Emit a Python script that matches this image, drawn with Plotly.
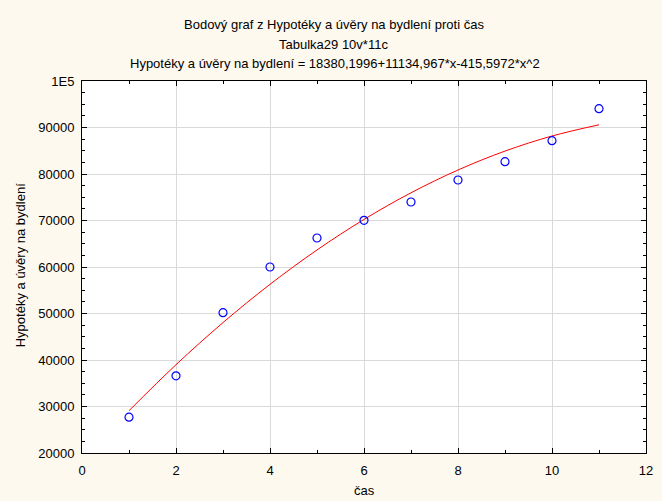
import plotly.graph_objects as go

# Data
cas = [1, 2, 3, 4, 5, 6, 7, 8, 9, 10, 11]
hypoteky = [27700, 36600, 50170, 60000, 66240, 70040, 73980, 78710, 82650, 87160, 94040]
# fitted curve values (as drawn, at each x)
fit_x = [1, 2, 3, 4, 5, 6, 7, 8, 9, 10, 11]
fit_y = [29100, 38990, 48045, 56270, 63665, 70230, 75960, 80860, 84930, 88170, 90580]

y_tickvals = [20000, 30000, 40000, 50000, 60000, 70000, 80000, 90000, 100000]
y_ticktext = ["20000", "30000", "40000", "50000", "60000", "70000", "80000", "90000", "1E5"]
x_tickvals = [0, 2, 4, 6, 8, 10, 12]

title_lines = [
    "Bodový graf z Hypotéky a úvěry na bydlení proti čas",
    "Tabulka29 10v*11c",
    "Hypotéky a úvěry na bydlení = 18380,1996+11134,967*x-415,5972*x^2",
]

FONT = "Liberation Sans, Arial, sans-serif"
FS = 13
L, R, T, B = 82, 9, 81, 48
W, H = 662, 501
PW = W - L - R
PH = H - T - B

def px_x(px):
    return (px - L) / PW

def px_y(py):
    return (H - B - py) / PH

fig = go.Figure()
fig.add_trace(go.Scatter(
    x=fit_x, y=fit_y, mode="lines",
    line=dict(color="#FF0000", width=1, shape="spline"),
    showlegend=False, hoverinfo="skip",
))
fig.add_trace(go.Scatter(
    x=cas, y=hypoteky, mode="markers",
    marker=dict(symbol="circle-open", size=8, color="#0000FF", line=dict(width=1.2, color="#0000FF")),
    showlegend=False,
))

annotations = []
for txt, cx, cy in zip(title_lines, [337, 337, 338], [25, 44, 63]):
    annotations.append(dict(text=txt, x=px_x(cx), y=px_y(cy), xref="paper", yref="paper",
                            xanchor="center", yanchor="middle", showarrow=False,
                            font=dict(family=FONT, size=FS, color="black")))
annotations.append(dict(text="čas", x=px_x(368), y=px_y(491), xref="paper", yref="paper",
                        xanchor="center", yanchor="middle", showarrow=False,
                        font=dict(family=FONT, size=FS, color="black")))
annotations.append(dict(text="Hypotéky a úvěry na bydlení", x=px_x(19.5), y=px_y(265), xref="paper", yref="paper",
                        xanchor="center", yanchor="middle", showarrow=False, textangle=-90,
                        font=dict(family=FONT, size=FS, color="black")))

axis_common = dict(
    showline=True, linecolor="black", linewidth=1, mirror="allticks",
    ticks="inside", ticklen=5, tickcolor="black", tickwidth=1,
    showgrid=True, gridcolor="#D9D9D9", gridwidth=1, zeroline=False,
    tickfont=dict(family=FONT, size=FS, color="black"),
)

fig.update_layout(
    width=W, height=H,
    margin=dict(l=L, r=R, t=T, b=B),
    paper_bgcolor="#FEF9EF",
    plot_bgcolor="white",
    annotations=annotations,
    xaxis=dict(range=[0, 12], tickvals=x_tickvals, ticklabelstandoff=5,
               minor=dict(dtick=1, ticks="inside", ticklen=3, tickcolor="black", showgrid=False),
               **axis_common),
    yaxis=dict(range=[20000, 100000], tickvals=y_tickvals, ticktext=y_ticktext, ticklabelstandoff=4,
               minor=dict(dtick=2500, ticks="inside", ticklen=3, tickcolor="black", showgrid=False),
               **axis_common),
)

fig.write_html("out.html", config={"displayModeBar": False},
               post_script="document.body.style.margin='0';")
